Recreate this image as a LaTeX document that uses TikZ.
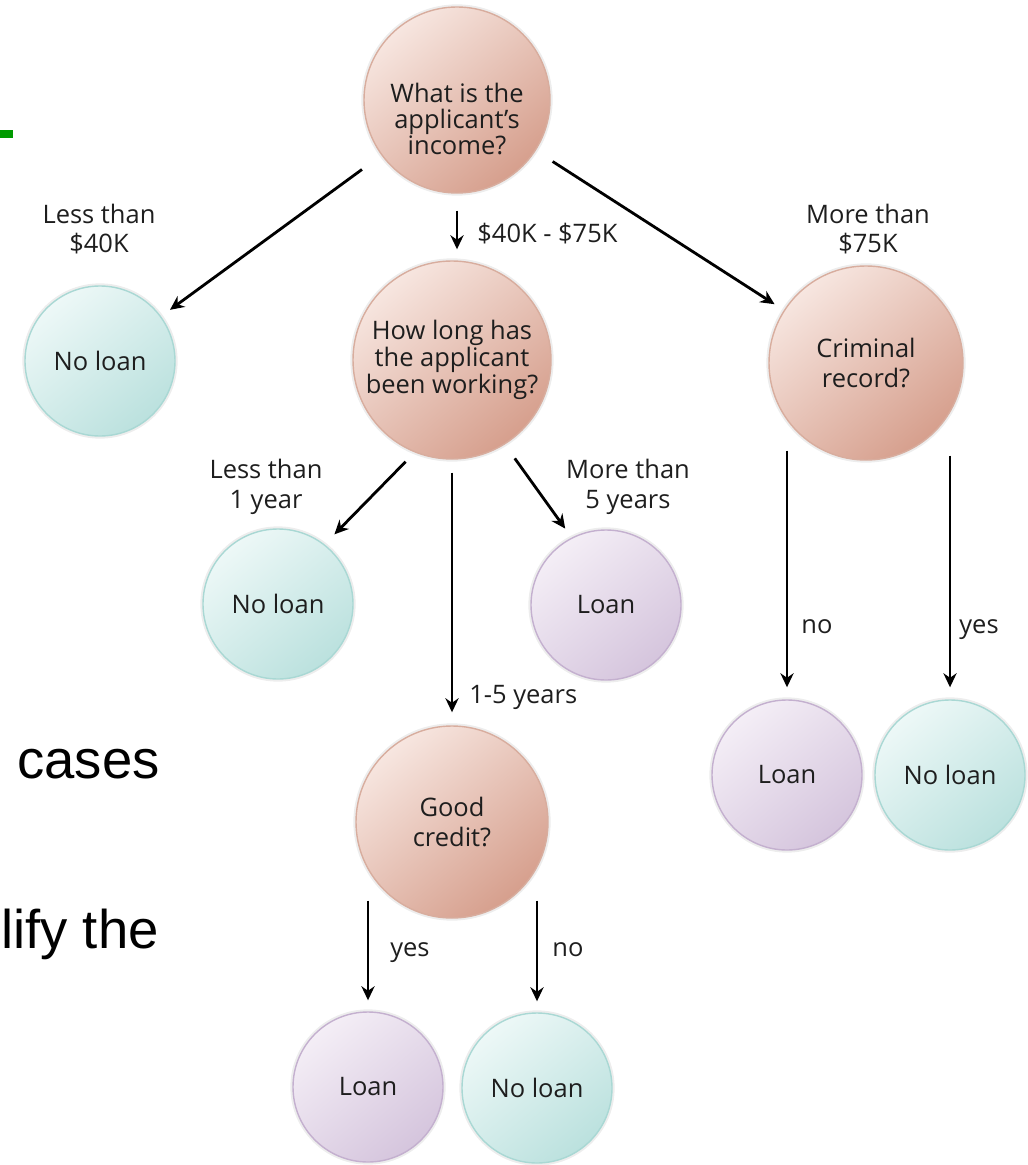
\documentclass[tikz,border=0pt]{standalone}
\usepackage{fontspec}
\setmainfont{Open Sans}
\newfontfamily\slidefont{Liberation Sans}
\usepackage{xcolor}
\usepackage{tikz}
\usetikzlibrary{calc}
\usetikzlibrary{arrows.meta}
\usetikzlibrary{shapes.geometric}
\tikzset{>=latex}
\definecolor{qtop}{HTML}{F7E6E0}
\definecolor{qbot}{HTML}{D69F8D}
\definecolor{qedge}{HTML}{D8AD9E}
\definecolor{ntop}{HTML}{EDF8F7}
\definecolor{nbot}{HTML}{BBE1DE}
\definecolor{nedge}{HTML}{A9D8D4}
\definecolor{ltop}{HTML}{F4EEF6}
\definecolor{lbot}{HTML}{D5C5DD}
\definecolor{ledge}{HTML}{C4B0CF}
\definecolor{slidegreen}{HTML}{009A00}
\definecolor{txt}{HTML}{1E1E1E}
\tikzstyle{ques} = [circle, draw=qedge, line width=0.8pt, top color=qtop, bottom color=qbot, shading angle=40, inner sep=0, align=center, text=txt, font=\fontsize{14.5}{17}\selectfont, preaction={draw=black!7, line width=3pt}]
\tikzstyle{noloan} = [circle, draw=nedge, line width=0.8pt, top color=ntop, bottom color=nbot, shading angle=40, minimum size=30mm, inner sep=0, align=center, text=txt, font=\fontsize{14.5}{17}\selectfont, preaction={draw=black!7, line width=3pt}]
\tikzstyle{loan} = [circle, draw=ledge, line width=0.8pt, top color=ltop, bottom color=lbot, shading angle=40, minimum size=30mm, inner sep=0, align=center, text=txt, font=\fontsize{14.5}{17}\selectfont, preaction={draw=black!7, line width=3pt}]
\tikzstyle{lbl} = [draw=none, align=center, inner sep=0, text=txt, font=\fontsize{14.5}{17}\selectfont]
\tikzstyle{arr} = [-{Stealth[length=8pt,width=7.5pt]}, line width=1.6pt, draw=black]
\tikzstyle{slide} = [draw=none, inner sep=0, font=\slidefont\fontsize{31}{36}\selectfont]

\begin{document}
\begin{tikzpicture}[x=0.2mm, y=-0.2mm]
\useasboundingbox (0,0) rectangle (1028,1165);
% bits of the slide behind the picture
\fill [slidegreen] (0,130) rectangle (13,138);
\node [slide, anchor=base west] (cases) at (17, 778) {cases};
\node [slide, anchor=base east] (lify) at (159, 948) {lify the};

% questions
\node [ques, minimum size=37.2mm] (inc) at (457, 100) {};
\node [lbl, font=\fontsize{14.5}{15}\selectfont] (inctxt) at (457, 119) {What is the\\applicant's\\income?};
\node [ques, minimum size=39.6mm, font=\fontsize{14.5}{15.5}\selectfont] (how) at (452, 360) {How long has\\the applicant\\been working?};
\node [ques, minimum size=38.8mm] (crim) at (866, 363) {Criminal\\record?};
\node [ques, minimum size=38.4mm] (good) at (452, 822) {Good\\credit?};

% outcomes
\node [noloan] (nl1) at (100, 361) {No loan};
\node [noloan] (nl2) at (278, 604) {No loan};
\node [loan] (loan1) at (606, 605) {Loan};
\node [loan] (loan2) at (787, 775) {Loan};
\node [noloan] (nl3) at (950, 775) {No loan};
\node [loan] (loan3) at (368, 1087) {Loan};
\node [noloan] (nl4) at (537, 1088) {No loan};

% branch labels
\node [lbl] (l40) at (99, 229) {Less than\\\$40K};
\node [lbl] (m75) at (868, 229) {More than\\\$75K};
\node [lbl, anchor=base west] (mid) at (477, 243) {\$40K - \$75K};
\node [lbl] (l1) at (266, 487) {Less than\\1 year};
\node [lbl] (m5) at (628, 487) {More than\\5 years};
\node [lbl, anchor=base west] (y15) at (469, 703) {1-5 years};
\node [lbl, anchor=base west] (cno) at (801, 633) {no};
\node [lbl, anchor=base west] (cyes) at (959, 633) {yes};
\node [lbl, anchor=base west] (gyes) at (390, 956) {yes};
\node [lbl, anchor=base west] (gno) at (552, 956) {no};

% arrows
\draw [arr, shorten <=4.8mm, shorten >=2.2mm] (inc) -- (nl1);
\draw [arr] ($(inc.south)+(0,17)$) -- ($(inc.south |- how.north)+(0,-11)$);
\draw [arr, shorten <=4mm, shorten >=2.2mm] (inc) -- (crim);
\draw [arr, shorten <=2.6mm, shorten >=2.8mm] (how.248) -- (nl2.52);
\draw [arr, shorten <=3.4mm, shorten >=2.2mm] (how.302) -- (loan1.117);
\draw [arr, shorten <=2.6mm, shorten >=2.6mm] (how.south) -- (good.north);
\draw [arr] ($(crim.south -| loan2.north)+(0,-10)$) -- ($(loan2.north)+(0,-12)$);
\draw [arr] ($(crim.south -| nl3.north)+(0,-5)$) -- ($(nl3.north)+(0,-12)$);
\draw [arr] ($(good.south -| loan3.north)+(0,-18)$) -- ($(loan3.north)+(0,-11)$);
\draw [arr] ($(good.south -| nl4.north)+(0,-18)$) -- ($(nl4.north)+(0,-11)$);
\end{tikzpicture}
\end{document}
